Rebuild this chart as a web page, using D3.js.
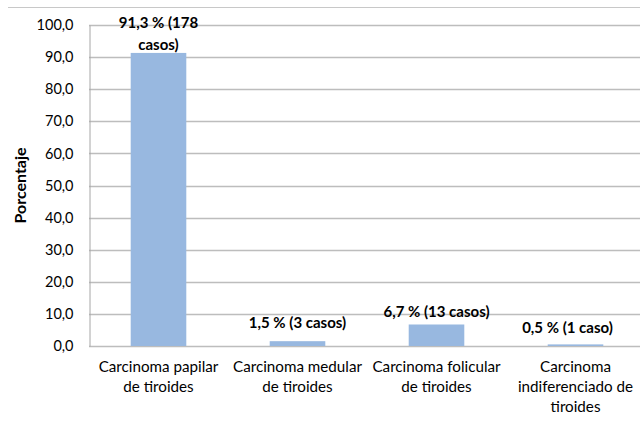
<!DOCTYPE html>
<html lang="es">
<head>
<meta charset="UTF-8">
<title>Carcinoma de tiroides</title>
<script src="https://d3js.org/d3.v7.min.js"></script>
<style>
  body { margin: 0; background: #fff; }
  text { font-family: Lato, "Open Sans", sans-serif; fill: #000; }
</style>
</head>
<body>
<script>
// data
const categories = [
  ['Carcinoma papilar', 'de tiroides'],
  ['Carcinoma medular', 'de tiroides'],
  ['Carcinoma folicular', 'de tiroides'],
  ['Carcinoma', 'indiferenciado de', 'tiroides']
];
const values = [91.3, 1.5, 6.7, 0.5];
const valueLabels = [
  ['91,3 % (178', 'casos)'],
  ['1,5 % (3 casos)'],
  ['6,7 % (13 casos)'],
  ['0,5 % (1 caso)']
];
const yTicks = [0, 10, 20, 30, 40, 50, 60, 70, 80, 90, 100];

const width = 640, height = 423;
const margin = { left: 89, top: 25, bottom: 77 };
const plotRight = 645;

const svg = d3.select('body').append('svg')
  .attr('width', width)
  .attr('height', height);

const x = d3.scaleBand()
  .domain(d3.range(categories.length))
  .range([margin.left, plotRight])
  .paddingInner(0.6)
  .paddingOuter(0.3);

const y = d3.scaleLinear()
  .domain([0, 100])
  .range([height - margin.bottom, margin.top]);

// outer chart border (top edge visible)
svg.append('line')
  .attr('x1', 8).attr('x2', width)
  .attr('y1', 7.5).attr('y2', 7.5)
  .attr('stroke', '#c8c8c8');

// gridlines
svg.append('g')
  .selectAll('line')
  .data(yTicks)
  .enter()
  .append('line')
  .attr('x1', margin.left).attr('x2', width)
  .attr('y1', d => Math.round(y(d)) + 0.5)
  .attr('y2', d => Math.round(y(d)) + 0.5)
  .attr('stroke', '#bdbdbd')
  .attr('stroke-width', 1.3);

// y axis
const yAxis = d3.axisLeft(y)
  .tickValues(yTicks)
  .tickSize(0)
  .tickPadding(16)
  .tickFormat(d => d3.format('.1f')(d).replace('.', ','));

const gy = svg.append('g')
  .attr('transform', `translate(${margin.left + 0.5},0)`)
  .call(yAxis);
gy.select('.domain').attr('stroke', '#a6a6a6');
gy.selectAll('text')
  .style('font-family', 'Lato, sans-serif')
  .style('font-size', '14.5px')
  .attr('fill', '#000');

// bars
svg.append('g')
  .selectAll('rect')
  .data(values)
  .enter()
  .append('rect')
  .attr('x', (d, i) => x(i))
  .attr('y', d => y(d))
  .attr('width', x.bandwidth())
  .attr('height', d => y(0) - y(d))
  .attr('fill', '#98b8e0');

// value labels (last line baseline relative to bar top)
const labelOffsets = [[0, -3], [0, -13], [0, -7], [-8, -11]];
valueLabels.forEach((lines, i) => {
  const cx = x(i) + x.bandwidth() / 2 + labelOffsets[i][0];
  const top = y(values[i]) + labelOffsets[i][1] - (lines.length - 1) * 22;
  const t = svg.append('text')
    .attr('text-anchor', 'middle')
    .attr('font-weight', 'bold')
    .attr('font-size', 15);
  lines.forEach((ln, j) => {
    t.append('tspan')
      .attr('x', cx)
      .attr('y', top + j * 22)
      .text(ln);
  });
});

// category labels
categories.forEach((lines, i) => {
  const cx = x(i) + x.bandwidth() / 2;
  const t = svg.append('text')
    .attr('text-anchor', 'middle')
    .attr('font-size', 15.2);
  lines.forEach((ln, j) => {
    t.append('tspan')
      .attr('x', cx)
      .attr('y', 371.5 + j * 20)
      .text(ln);
  });
});

// y title
svg.append('text')
  .attr('transform', `translate(26,${(y(0) + y(100)) / 2}) rotate(-90)`)
  .attr('text-anchor', 'middle')
  .attr('font-weight', 'bold')
  .attr('font-size', 16)
  .text('Porcentaje');
</script>
</body>
</html>
